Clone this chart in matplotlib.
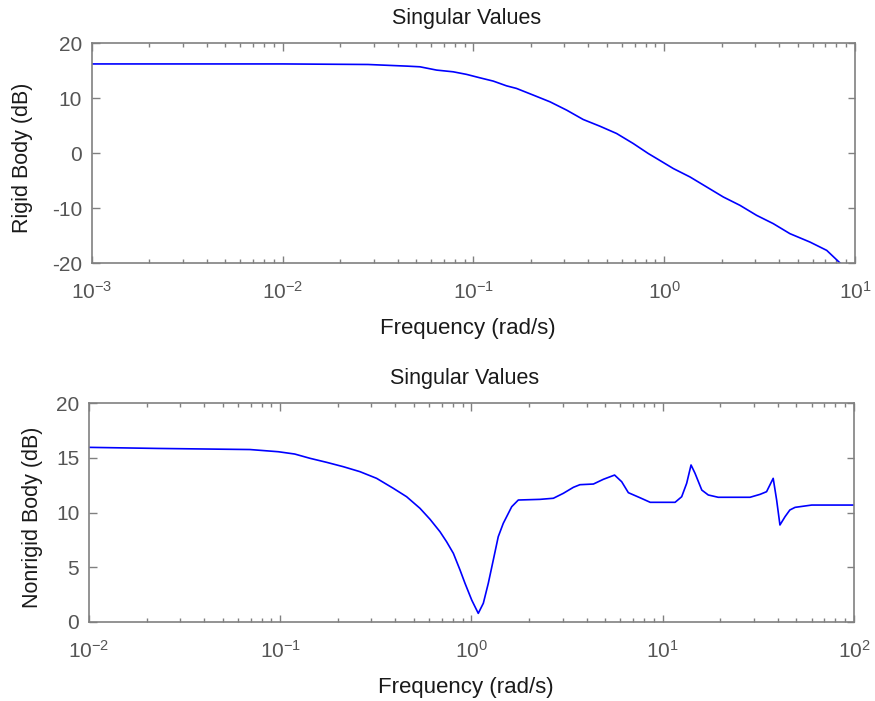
import matplotlib
matplotlib.use("Agg")
import matplotlib.pyplot as plt
from matplotlib.ticker import LogLocator, FixedLocator

plt.rcParams['font.family'] = ['Liberation Sans', 'DejaVu Sans']
plt.rcParams['mathtext.default'] = 'regular'
plt.rcParams['axes.unicode_minus'] = False

# rigid body singular values (rad/s, dB)
freq_rigid = [0.001, 0.01, 0.028, 0.045, 0.0524, 0.0641, 0.0783, 0.092, 0.108,
              0.127, 0.149, 0.168, 0.206, 0.252, 0.308, 0.376, 0.460, 0.563,
              0.688, 0.825, 0.913, 1.116, 1.365, 1.669, 2.04, 2.495, 3.05,
              3.73, 4.56, 5.81, 7.11, 8.18, 8.6]
rigid_db = [16.2, 16.2, 16.1, 15.8, 15.68, 15.08, 14.77, 14.30, 13.68,
            13.08, 12.22, 11.75, 10.53, 9.31, 7.80, 6.10, 4.88, 3.55,
            1.73, -0.09, -1.00, -2.82, -4.35, -6.17, -7.99, -9.51, -11.33,
            -12.84, -14.66, -16.19, -17.7, -19.7, -20.4]

# nonrigid body singular values (rad/s, dB)
freq_nonrigid = [0.01, 0.023, 0.0695, 0.0977, 0.119, 0.143, 0.175, 0.214, 0.261,
                 0.319, 0.390, 0.458, 0.538, 0.607, 0.684, 0.741, 0.804, 0.871,
                 0.925, 1.003, 1.085, 1.153, 1.224, 1.300, 1.380, 1.466, 1.623,
                 1.757, 2.28, 2.68, 3.02, 3.41, 3.69, 4.34, 4.89, 5.6, 6.1,
                 6.61, 7.6, 8.6, 11.6, 12.56, 13.34, 14.06, 14.75, 16.0, 17.3,
                 19.5, 28.6, 32.3, 34.9, 37.8, 39.4, 41.0, 43.6, 46.2, 49.2,
                 60.1, 100.0]
nonrigid_db = [15.95, 15.85, 15.75, 15.55, 15.34, 14.95, 14.58, 14.18, 13.73,
               13.12, 12.21, 11.44, 10.38, 9.38, 8.25, 7.33, 6.27, 4.75,
               3.53, 2.0, 0.79, 1.71, 3.53, 5.66, 7.79, 9.01, 10.53,
               11.14, 11.2, 11.3, 11.75, 12.3, 12.54, 12.6, 13.03, 13.42, 12.81,
               11.81, 11.35, 10.93, 10.93, 11.44, 12.67, 14.34, 13.58, 12.05, 11.6,
               11.39, 11.39, 11.66, 11.9, 13.12, 11.14, 8.86, 9.62, 10.23, 10.47,
               10.68, 10.68]

rigid_yticks = [-20, -10, 0, 10, 20]
nonrigid_yticks = [0, 5, 10, 15, 20]

TICK_COLOR = "#555555"
SPINE_COLOR = "#808080"
TEXT_COLOR = "#1a1a1a"
LINE_COLOR = "#0000ff"


def style_axes(ax, xlim, ylim, yticks, ylabel, ylabel_x):
    ax.set_xscale("log")
    ax.set_xlim(*xlim)
    ax.set_ylim(*ylim)
    ax.yaxis.set_major_locator(FixedLocator(yticks))
    ax.xaxis.set_major_locator(LogLocator(base=10, numticks=10))
    ax.xaxis.set_minor_locator(LogLocator(base=10, subs=range(2, 10), numticks=100))
    ax.tick_params(which="both", direction="in", top=True, right=True,
                   colors=SPINE_COLOR, labelcolor=TICK_COLOR, labelsize=15)
    ax.tick_params(which="major", length=5.4, width=1)
    ax.tick_params(which="minor", length=3, width=1)
    ax.tick_params(axis="x", pad=13)
    ax.tick_params(axis="y", pad=7)
    for sp in ax.spines.values():
        sp.set_color(SPINE_COLOR)
        sp.set_linewidth(1.2)
    ax.set_title("Singular Values", fontsize=15.5, color=TEXT_COLOR, pad=14, x=0.4915)
    ax.set_xlabel("Frequency (rad/s)", fontsize=16, color=TEXT_COLOR)
    ax.xaxis.set_label_coords(0.4928, -0.25)
    ax.set_ylabel(ylabel, fontsize=15.5, color=TEXT_COLOR)
    ax.yaxis.set_label_coords(ylabel_x, 0.48)


fig = plt.figure(figsize=(8.75, 7.01), dpi=100)

ax1 = fig.add_axes([0.1051, 0.6248, 0.8720, 0.3138])
ax1.plot(freq_rigid, rigid_db, color=LINE_COLOR, lw=1.2)
style_axes(ax1, (1e-3, 1e1), (-20, 20), rigid_yticks, "Rigid Body (dB)", -0.0773)

ax2 = fig.add_axes([0.1017, 0.1127, 0.8743, 0.3124])
ax2.plot(freq_nonrigid, nonrigid_db, color=LINE_COLOR, lw=1.2)
style_axes(ax2, (1e-2, 1e2), (0, 20), nonrigid_yticks, "Nonrigid Body (dB)", -0.0601)

fig.savefig("out.png", dpi=100)
